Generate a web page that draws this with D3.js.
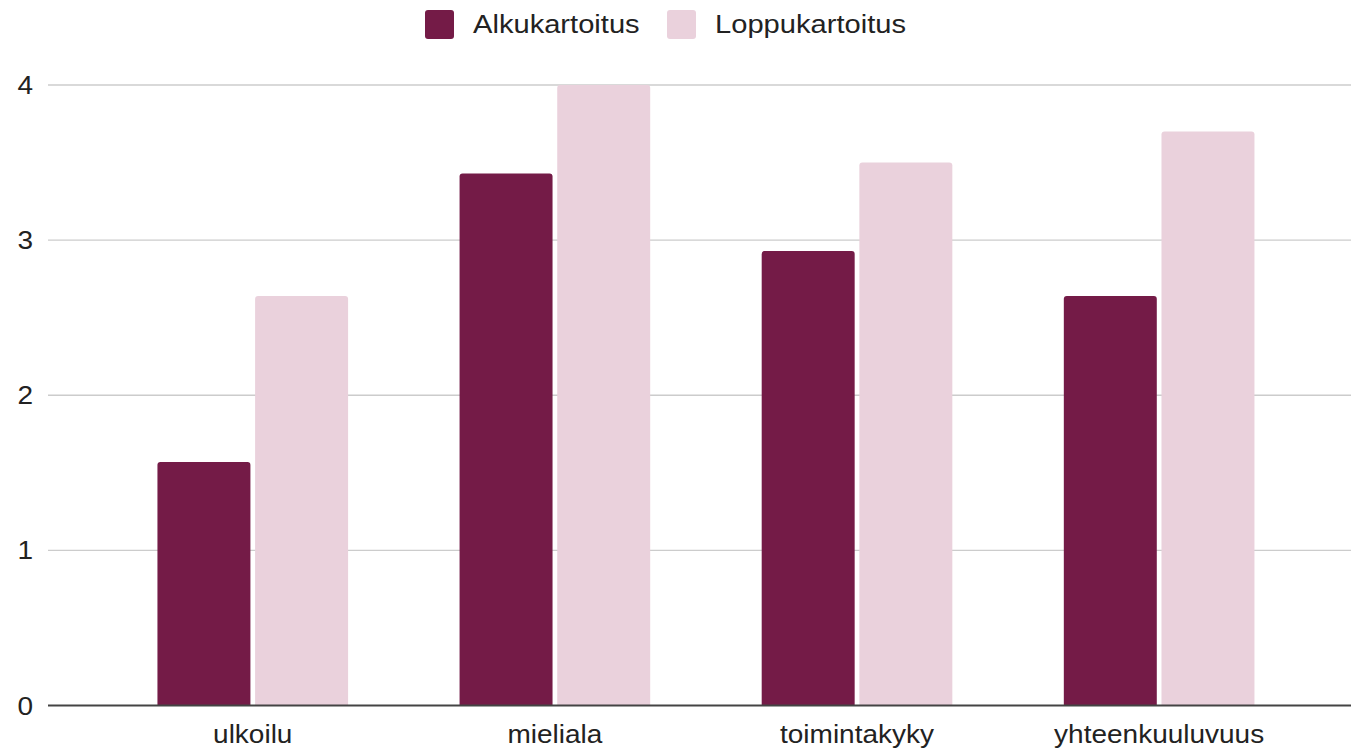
<!DOCTYPE html>
<html>
<head>
<meta charset="utf-8">
<script src="https://cdn.jsdelivr.net/npm/d3@7"></script>
<style>
  body { margin: 0; background: #fff; }
  text { font-family: Arial, "Liberation Sans", sans-serif; fill: #222; }
</style>
</head>
<body>
<div id="chart"></div>
<script>
// data
var categories = ["ulkoilu", "mieliala", "toimintakyky", "yhteenkuuluvuus"];
var seriesNames = ["Alkukartoitus", "Loppukartoitus"];
var alkukartoitus = [1.57, 3.43, 2.93, 2.64];
var loppukartoitus = [2.64, 4.0, 3.5, 3.7];
var yTicks = [0, 1, 2, 3, 4];
var colors = ["#741b47", "#ead1dc"];

var width = 1351, height = 749;
var stretch = 1.12; // text in the picture is a bit wider than it is tall

var svg = d3.select("#chart").append("svg")
    .attr("width", width)
    .attr("height", height);

// set the ranges
var x0 = d3.scaleBand().domain(categories).range([101.7, 1310.2])
    .paddingInner(0.369).paddingOuter(0.1845);
var x1 = d3.scaleBand().domain(seriesNames).range([0, x0.bandwidth()])
    .paddingInner(0.048);
var y = d3.scaleLinear().domain([0, 4]).range([705.5, 85]);

var values = { "Alkukartoitus": alkukartoitus, "Loppukartoitus": loppukartoitus };
var color = d3.scaleOrdinal().domain(seriesNames).range(colors);

function stretchedText(g, x, yy, txt, anchor, size) {
    return g.append("text")
        .attr("transform", "translate(" + x + "," + yy + ") scale(" + stretch + ",1)")
        .attr("text-anchor", anchor)
        .style("font-size", size + "px")
        .text(txt);
}

// gridlines
svg.append("g").selectAll("line")
    .data(yTicks.filter(function(d) { return d > 0; }))
    .enter().append("line")
    .attr("x1", 48).attr("x2", width)
    .attr("y1", function(d) { return y(d); })
    .attr("y2", function(d) { return y(d); })
    .attr("stroke", "#cccccc").attr("stroke-width", 1.3);

// y tick labels
var yAxis = svg.append("g");
yTicks.forEach(function(t) {
    stretchedText(yAxis, 33, y(t) + 9, String(t), "end", 25);
});

// bars with slightly rounded tops
function barPath(x, top, w, bottom) {
    var r = Math.min(3, (bottom - top) / 2);
    return "M" + x + "," + bottom +
        "V" + (top + r) +
        "Q" + x + "," + top + " " + (x + r) + "," + top +
        "H" + (x + w - r) +
        "Q" + (x + w) + "," + top + " " + (x + w) + "," + (top + r) +
        "V" + bottom + "Z";
}

var groups = svg.append("g").selectAll("g")
    .data(categories)
    .enter().append("g")
    .attr("transform", function(d) { return "translate(" + x0(d) + ",0)"; });

groups.selectAll("path")
    .data(function(c, i) {
        return seriesNames.map(function(s) { return { series: s, value: values[s][i] }; });
    })
    .enter().append("path")
    .attr("fill", function(d) { return color(d.series); })
    .attr("d", function(d) {
        return barPath(x1(d.series), y(d.value), x1.bandwidth(), y(0));
    });

// baseline
svg.append("line")
    .attr("x1", 48).attr("x2", width)
    .attr("y1", y(0)).attr("y2", y(0))
    .attr("stroke", "#444").attr("stroke-width", 2);

// category labels
var xAxis = svg.append("g");
categories.forEach(function(c) {
    stretchedText(xAxis, x0(c) + x0.bandwidth() / 2, 743, c, "middle", 25);
});

// legend
var legendX = [425, 667];
var legend = svg.append("g");
seriesNames.forEach(function(s, i) {
    legend.append("rect")
        .attr("x", legendX[i]).attr("y", 10)
        .attr("width", 29).attr("height", 29)
        .attr("rx", 3)
        .attr("fill", color(s));
    stretchedText(legend, legendX[i] + 48, 33, s, "start", 26);
});
</script>
</body>
</html>
